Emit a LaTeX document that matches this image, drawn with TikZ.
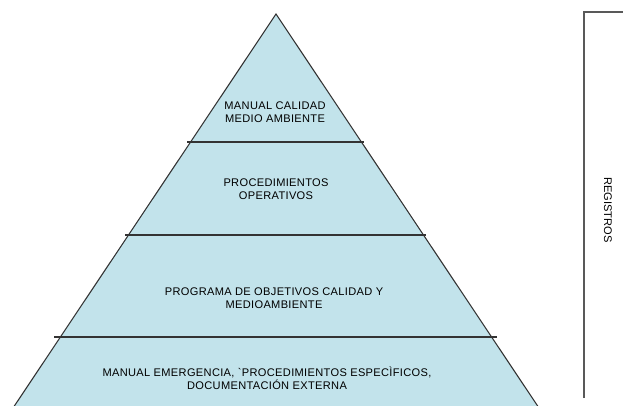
\documentclass[tikz,border=0pt]{standalone}
\usepackage{fontspec}
\setmainfont{Liberation Sans}
\newfontfamily\pyrfont[LetterSpace=3]{Liberation Sans}
\definecolor{pyrblue}{rgb}{0.76,0.89,0.92}
\definecolor{pyrline}{rgb}{0.2,0.2,0.2}
\definecolor{regline}{rgb}{0.35,0.35,0.35}

\begin{document}
\begin{tikzpicture}[x=0.75pt,y=-0.75pt]
\tikzset{nivel/.style={anchor=center,align=center,font=\pyrfont\fontsize{8.3}{10}\selectfont}}
\useasboundingbox (0,0) rectangle (623,405);
\clip (0,0) rectangle (623,405);
\fill [color=pyrblue] (276,14) -- (547,420) -- (5,420) -- cycle;
\draw [line width=0.8pt,color=pyrline] (5,420) -- (276,14) -- (547,420);
\draw [line width=0.8pt,color=pyrline] (187,142)--(364,142);
\draw [line width=0.8pt,color=pyrline] (125,235)--(426,235);
\draw [line width=0.8pt,color=pyrline] (54,337)--(497,337);
\draw [line width=1pt,color=regline] (584,398) -- (584,12) -- (623,12);
\draw (275,112) node[nivel] (n1) {MANUAL CALIDAD\\MEDIO AMBIENTE};
\draw (276,189) node[nivel] (n2) {PROCEDIMIENTOS\\OPERATIVOS};
\draw (274,298) node[nivel] (n3) {PROGRAMA DE OBJETIVOS CALIDAD Y\\MEDIOAMBIENTE};
\draw (267,378) node[nivel] (n4) {MANUAL EMERGENCIA, `PROCEDIMIENTOS ESPEC\`IFICOS,\\DOCUMENTACI\'ON EXTERNA};
\draw (608,210) node[anchor=center,rotate=-90,font=\fontsize{8.3}{10}\selectfont] (reg) {REGISTROS};



\end{tikzpicture}
\end{document}
